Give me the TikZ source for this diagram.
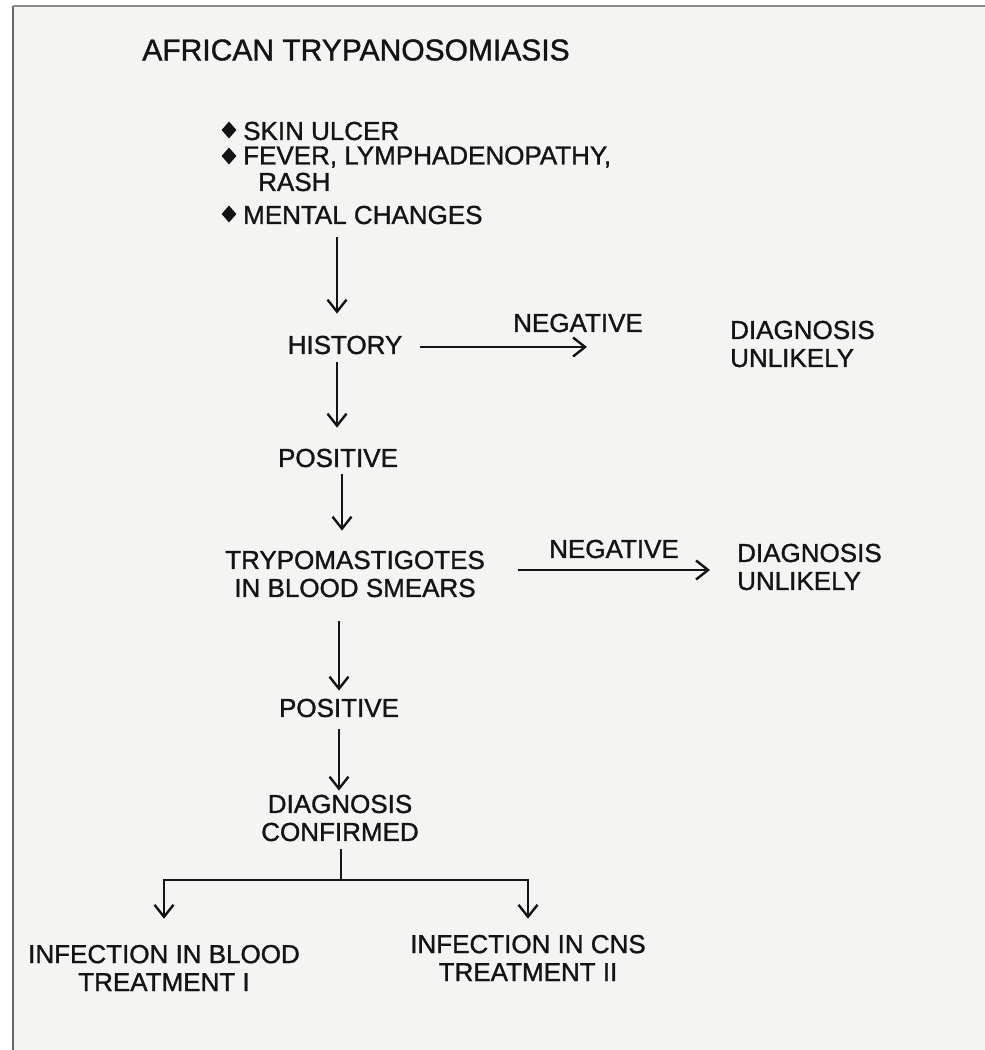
\documentclass[tikz,border=0pt]{standalone}
\usepackage{fontspec}
\setmainfont{Liberation Sans}[BoldFont=Liberation Sans, BoldFeatures={FakeBold=1.2}]
\usetikzlibrary{arrows.meta,shapes.geometric}
\definecolor{pagebg}{RGB}{244,244,242}
\definecolor{ink}{RGB}{20,20,20}
\begin{document}
\begin{tikzpicture}[x=1pt,y=-1pt,
  lbl/.style={inner sep=0pt, align=center, text=ink, font=\fontsize{26}{28}\selectfont\bfseries},
  lbll/.style={lbl, align=left},
  ttl/.style={inner sep=0pt, text=ink, font=\fontsize{30}{32}\selectfont\bfseries},
  bul/.style={diamond, fill=ink, inner sep=0pt, minimum width=15pt, minimum height=17pt},
  conn/.style={draw=ink, line width=2.4pt},
  arr/.style={conn, -{Straight Barb[length=12pt,width=19pt,line width=2.4pt]}}]
\fill[white] (0,0) rectangle (985,1050);
\fill[pagebg] (13,6) rectangle (985,1050);
\useasboundingbox (0,0) rectangle (985,1050);
\draw[line width=2pt, draw=black!60] (13,6) -- (13,1050);
\draw[line width=1.2pt, draw=black!45] (13,6) -- (985,6);

% title and symptoms
\node[ttl] (title) at (356,50) {AFRICAN TRYPANOSOMIASIS};
\node[lbl, anchor=west] (skin) at (243,131) {SKIN ULCER};
\node[lbl, anchor=west] (fever) at (243,157) {FEVER, LYMPHADENOPATHY,};
\node[lbl, anchor=west] (rash) at (258,182) {RASH};
\node[lbl, anchor=west] (mental) at (243,215) {MENTAL CHANGES};
\node[bul] (b1) at (229,130) {};
\node[bul] (b2) at (229,156) {};
\node[bul] (b3) at (229,214) {};

% flow
\node[lbl] (history) at (345,345) {HISTORY};
\node[lbl] (neg1) at (578,323) {NEGATIVE};
\node[lbll, anchor=west] (unl1) at (730,344) {DIAGNOSIS\\UNLIKELY};
\node[lbl] (pos1) at (338,458) {POSITIVE};
\node[lbl] (trypo) at (355,574) {TRYPOMASTIGOTES\\IN BLOOD SMEARS};
\node[lbl] (neg2) at (614,549) {NEGATIVE};
\node[lbll, anchor=west] (unl2) at (737,567) {DIAGNOSIS\\UNLIKELY};
\node[lbl] (pos2) at (339,708) {POSITIVE};
\node[lbl] (conf) at (340,818) {DIAGNOSIS\\CONFIRMED};
\node[lbl] (blood) at (164,968) {INFECTION IN BLOOD\\TREATMENT I};
\node[lbl] (cns) at (528,958) {INFECTION IN CNS\\TREATMENT II};

% connectors
\draw[arr, shorten <=13pt, shorten >=22pt] ([xshift=-8pt]history.north |- mental.south) -- ([xshift=-8pt]history.north);
\draw[arr, shorten <=8pt, shorten >=21pt] ([xshift=-8pt]history.south) -- ([xshift=-8pt]history.south |- pos1.north);
\draw[arr, shorten <=7pt, shorten >=20pt] ([xshift=4pt]pos1.south) -- ([xshift=4pt]pos1.south |- trypo.north);
\draw[arr, shorten <=24pt, shorten >=8pt] (pos2.north |- trypo.south) -- (pos2.north);
\draw[arr, shorten <=12pt, shorten >=4pt] (pos2.south) -- (pos2.south |- conf.north);
\draw[arr, shorten <=17pt, shorten >=143pt] ([yshift=-2pt]history.east) -- ([yshift=-2pt]history.east -| unl1.west);
\draw[arr, shorten <=33pt, shorten >=27pt] ([yshift=4pt]trypo.east) -- ([yshift=4pt]trypo.east -| unl2.west);
\coordinate (split) at (341,880);
\draw[conn, shorten <=8pt] (conf.south -| split) -- (split);
\draw[conn, line cap=rect] (split -| blood) -- (split -| cns);
\draw[arr, shorten >=26pt] (split -| blood) -- (blood.north);
\draw[arr, shorten >=16pt] (split -| cns) -- (cns.north);
\end{tikzpicture}
\end{document}
